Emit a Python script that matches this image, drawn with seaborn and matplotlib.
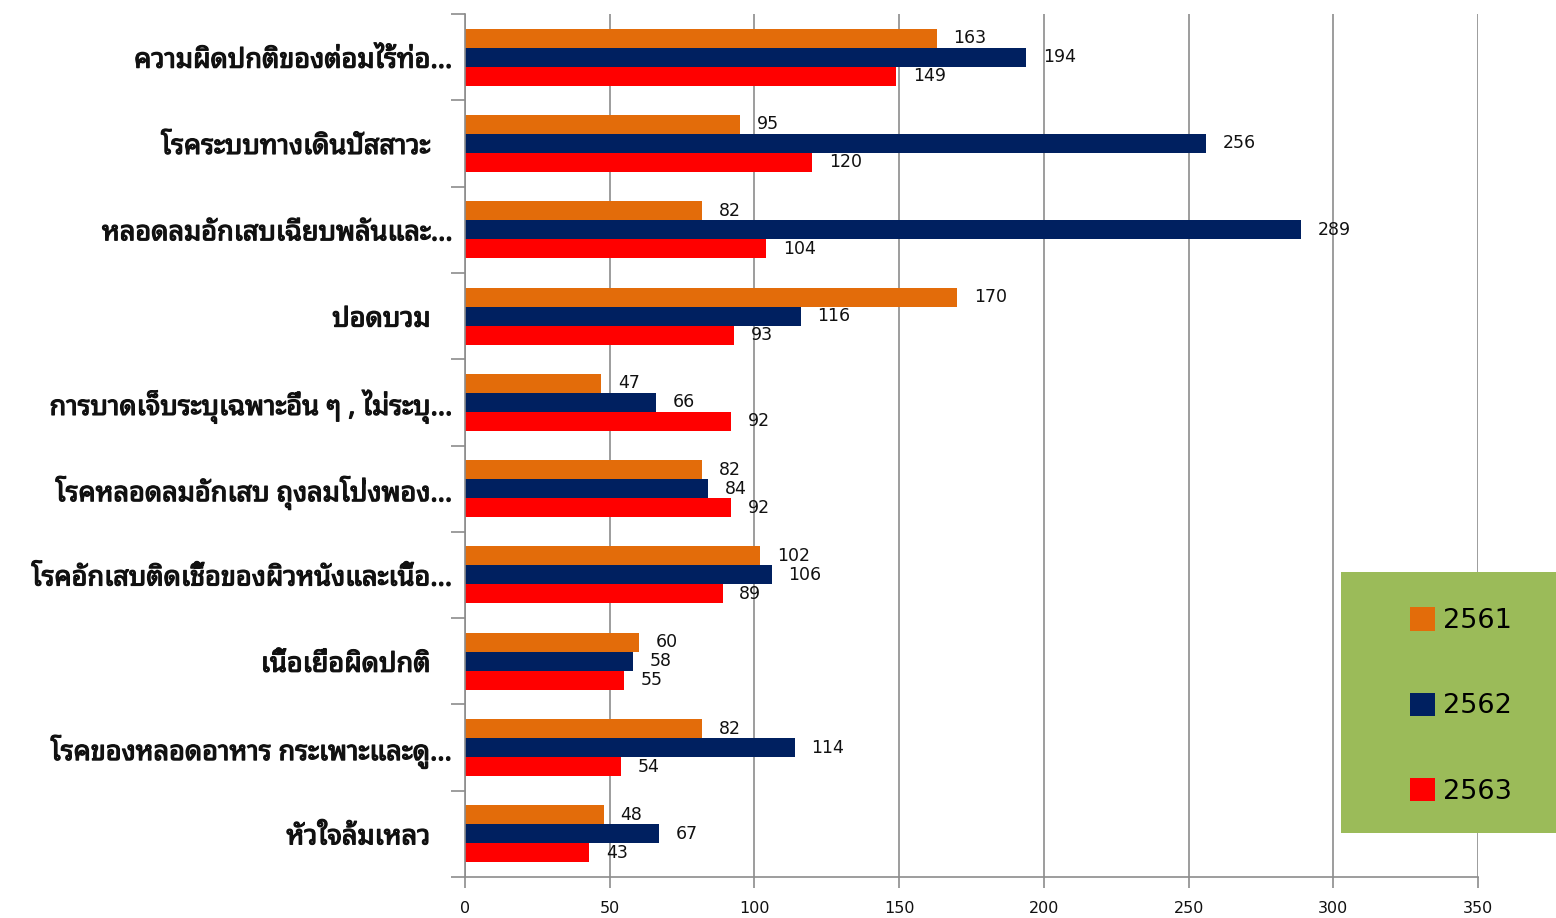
import numpy as np
import pandas as pd
import matplotlib
matplotlib.use("Agg")
import matplotlib.pyplot as plt
import matplotlib.patheffects as pe
import seaborn as sns
from matplotlib import font_manager
from matplotlib.patches import Rectangle

categories = [
    "ความผิดปกติของต่อมไร้ท่อ...",
    "โรคระบบทางเดินปัสสาวะ",
    "หลอดลมอักเสบเฉียบพลันและ...",
    "ปอดบวม",
    "การบาดเจ็บระบุเฉพาะอื่น ๆ , ไม่ระบุ...",
    "โรคหลอดลมอักเสบ ถุงลมโป่งพอง...",
    "โรคอักเสบติดเชื้อของผิวหนังและเนื้อ...",
    "เนื้อเยื่อผิดปกติ",
    "โรคของหลอดอาหาร กระเพาะและดู...",
    "หัวใจล้มเหลว",
]
years = ["2561", "2562", "2563"]
v2561 = [163, 95, 82, 170, 47, 82, 102, 60, 82, 48]
v2562 = [194, 256, 289, 116, 66, 84, 106, 58, 114, 67]
v2563 = [149, 120, 104, 93, 92, 92, 89, 55, 54, 43]
colors = ["#E36C0A", "#002060", "#FF0000"]
x_ticks = [0, 50, 100, 150, 200, 250, 300, 350]


def find_thai_family():
    try:
        from fontTools.ttLib import TTFont
    except Exception:
        return None
    found = []
    for f in font_manager.fontManager.ttflist:
        try:
            tt = TTFont(f.fname, fontNumber=0, lazy=True)
            cmap = tt.getBestCmap()
            if cmap and 0x0E01 in cmap and 0x0E2A in cmap and 0x0E40 in cmap:
                found.append(f.name)
        except Exception:
            pass
    prefs = ["Tahoma", "Noto Sans Thai", "Loma", "Garuda", "Sarabun", "Waree", "Kinnari"]
    for p in prefs:
        for n in found:
            if p.lower() in n.lower():
                return n
    return found[0] if found else None


sns.set_theme(style="white")
thai = find_thai_family()
plt.rcParams["font.family"] = ["DejaVu Sans"]
label_family = [thai, "DejaVu Sans"] if thai else ["DejaVu Sans"]

df = pd.DataFrame({
    "category": categories * 3,
    "year": np.repeat(years, len(categories)),
    "value": v2561 + v2562 + v2563,
})

fig = plt.figure(figsize=(15.56, 9.18), dpi=100)
ax = fig.add_axes([465 / 1556, 1 - 877 / 918, (1478 - 465) / 1556, (877 - 14) / 918])

sns.barplot(data=df, y="category", x="value", hue="year", hue_order=years,
            order=categories, palette=colors, orient="h", width=0.66,
            saturation=1, errorbar=None, linewidth=0, ax=ax)

for c in ax.containers:
    ax.bar_label(c, padding=12, fontsize=12.5, color="#111111")

handles, labels = ax.get_legend_handles_labels()
if ax.get_legend() is not None:
    ax.get_legend().remove()

ax.set_xlim(0, 350)
ax.set_ylim(9.5, -0.5)
ax.set_xlabel("")
ax.set_ylabel("")
ax.set_xticks(x_ticks)
ax.set_xticklabels([str(t) for t in x_ticks])
ax.set_yticks(range(len(categories)))
ax.set_yticklabels(categories, fontsize=19.5, fontweight="bold", family=label_family)
for lbl in ax.get_yticklabels():
    lbl.set_path_effects([pe.withStroke(linewidth=0.9, foreground="#111111")])
ax.set_yticks(np.arange(-0.5, len(categories), 1), minor=True)

grid_c = "#8c8c8c"
ax.grid(axis="x", color=grid_c, linewidth=1.2)
ax.grid(axis="y", visible=False)
ax.set_axisbelow(True)
for s in ["top", "right"]:
    ax.spines[s].set_visible(False)
for s in ["left", "bottom"]:
    ax.spines[s].set_color(grid_c)
    ax.spines[s].set_linewidth(1.2)

ax.tick_params(axis="x", which="major", bottom=True, length=8, width=1.2,
               color=grid_c, pad=9, labelsize=11.5, labelcolor="#111111")
ax.tick_params(axis="y", which="major", left=False, length=0, pad=9, labelcolor="#111111")
ax.tick_params(axis="y", which="minor", left=True, length=10, width=1.2, color=grid_c)

for i, t in enumerate(ax.yaxis.get_major_ticks()):
    if not categories[i].endswith("..."):
        t.set_pad(25)

fig.add_artist(Rectangle((1341 / 1556, 1 - 833 / 918), 1 - 1341 / 1556, (833 - 572) / 918,
                         transform=fig.transFigure, facecolor="#9BBB59", edgecolor="none"))
fig.legend(handles, labels, loc="center left", bbox_to_anchor=(1396 / 1556, 1 - 706 / 918),
           bbox_transform=fig.transFigure, frameon=False, fontsize=19.5, borderpad=0,
           handlelength=0.95, handleheight=0.95, handletextpad=0.3, labelspacing=2.15,
           labelcolor="#000000")

fig.savefig("out.png", dpi=100)
